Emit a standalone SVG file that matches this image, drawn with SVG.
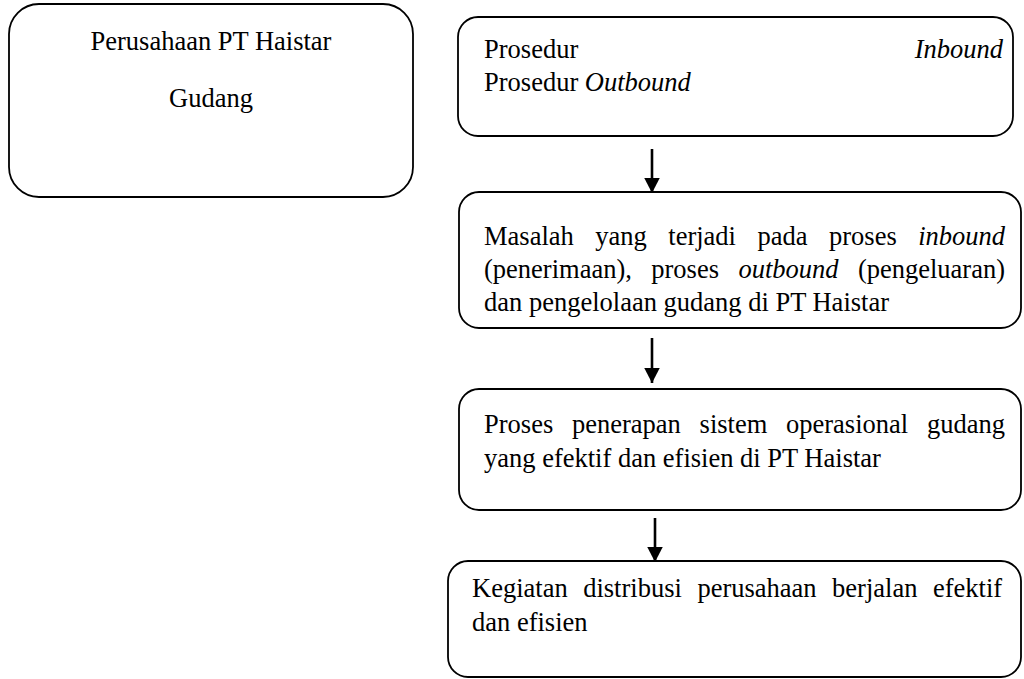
<svg xmlns="http://www.w3.org/2000/svg" width="1024" height="679" viewBox="0 0 1024 679">
<style>
.box{fill:#fff;stroke:#000;stroke-width:1.8}
.t{font-family:"Liberation Serif","Times New Roman",serif;font-size:26.5px;fill:#000}
.c{text-anchor:middle}
.e{text-anchor:end}
.i{font-style:italic}
.conn{stroke:#000;stroke-width:2.6;fill:none}
</style>
<defs>
<marker id="ah" markerUnits="userSpaceOnUse" markerWidth="16" markerHeight="16" refX="15" refY="7.75" orient="auto">
<path d="M0,0 L15,7.75 L0,15.5 z" fill="#000"/>
</marker>
</defs>
<rect width="1024" height="679" fill="#fff"/>
<g id="node-perusahaan">
<rect class="box" x="9" y="4" width="404" height="193" rx="30"/>
<text class="t c" x="211" y="50">Perusahaan PT Haistar</text>
<text class="t c" x="211" y="107">Gudang</text>
</g>
<g id="node-prosedur">
<rect class="box" x="458" y="17" width="555" height="119" rx="20"/>
<text class="t" x="484" y="58">Prosedur</text>
<text class="t i e" x="1003" y="58">Inbound</text>
<text class="t" x="484" y="91">Prosedur <tspan class="i">Outbound</tspan></text>
</g>
<g id="node-masalah">
<rect class="box" x="459" y="192" width="562" height="136" rx="20"/>
<text class="t" y="245"><tspan x="484">Masalah</tspan><tspan x="595.3">yang</tspan><tspan x="668.3">terjadi</tspan><tspan x="757.5">pada</tspan><tspan x="829">proses</tspan><tspan x="918.2" class="i">inbound</tspan></text>
<text class="t" y="278"><tspan x="484">(penerimaan),</tspan><tspan x="651.3">proses</tspan><tspan x="738.4" class="i">outbound</tspan><tspan x="857.9">(pengeluaran)</tspan></text>
<text class="t" x="484" y="311">dan pengelolaan gudang di PT Haistar</text>
</g>
<g id="node-proses">
<rect class="box" x="459" y="389" width="562" height="121" rx="20"/>
<text class="t" y="433"><tspan x="484">Proses</tspan><tspan x="571.9">penerapan</tspan><tspan x="699.6">sistem</tspan><tspan x="786">operasional</tspan><tspan x="927">gudang</tspan></text>
<text class="t" x="484" y="467">yang efektif dan efisien di PT Haistar</text>
</g>
<g id="node-kegiatan">
<rect class="box" x="448" y="561" width="573" height="116" rx="20"/>
<text class="t" y="597"><tspan x="472">Kegiatan</tspan><tspan x="583.2">distribusi</tspan><tspan x="697.4">perusahaan</tspan><tspan x="832.1">berjalan</tspan><tspan x="933">efektif</tspan></text>
<text class="t" x="472" y="631">dan efisien</text>
</g>
<g id="connectors">
<line class="conn" x1="652" y1="149" x2="652" y2="193" marker-end="url(#ah)"/>
<line class="conn" x1="652" y1="338" x2="652" y2="383" marker-end="url(#ah)"/>
<line class="conn" x1="655" y1="518" x2="655" y2="562" marker-end="url(#ah)"/>
</g>
</svg>
